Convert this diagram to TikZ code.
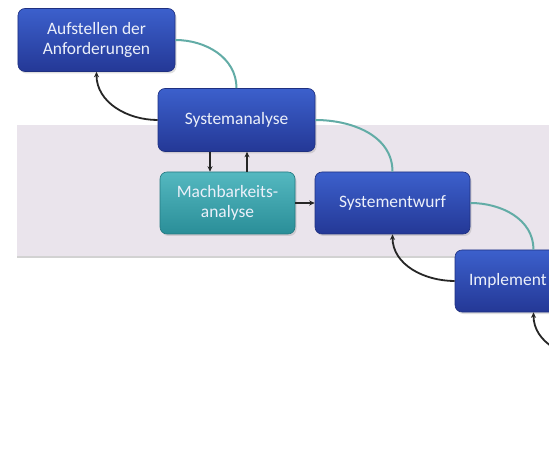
\documentclass[tikz,border=0pt]{standalone}
\usepackage{fontspec}
\setmainfont{Carlito}
\usetikzlibrary{arrows.meta,shadows,calc}

\definecolor{phaseTop}{RGB}{60,96,204}
\definecolor{phaseBot}{RGB}{36,56,150}
\definecolor{checkTop}{RGB}{84,184,192}
\definecolor{checkBot}{RGB}{42,142,152}
\definecolor{flowTeal}{RGB}{98,172,166}
\definecolor{bandFill}{RGB}{234,228,236}
\definecolor{labelWhite}{RGB}{236,240,250}

\tikzset{
  phase/.style={rounded corners=7bp, top color=phaseTop, bottom color=phaseBot,
    draw=phaseBot!85!black, line width=0.6bp,
    minimum width=157bp, minimum height=63bp, inner sep=0pt,
    text=labelWhite, align=center,
    font=\fontsize{17.5}{20.5}\selectfont,
    drop shadow={opacity=0.25, shadow xshift=1.5bp, shadow yshift=-2bp}},
  check/.style={phase, top color=checkTop, bottom color=checkBot,
    draw=checkBot!85!black},
  forward/.style={draw=flowTeal, line width=2bp},
  feedback/.style={draw=black!85, line width=1.8bp,
    -{Stealth[length=5.5bp,width=5bp]}}
}

\begin{document}
\begin{tikzpicture}[x=1bp,y=-1bp]
  \useasboundingbox (0,0) rectangle (549,460);
  \fill[white] (0,0) rectangle (549,460);
  \clip (0,0) rectangle (549,460);

  % shaded band behind the analysis/design phases
  \fill[bandFill, drop shadow={opacity=0.35, shadow xshift=0bp, shadow yshift=-2bp}]
    (17,125) rectangle (570,256);

  % phases
  \node[phase] (req) at (96.5,40) {Aufstellen der\\Anforderungen};
  \node[phase] (ana) at (236.5,120) {Systemanalyse};
  \node[check, minimum width=135bp, minimum height=62bp] (feas) at (227.5,203)
    {Machbarkeits-\\analyse};
  \node[phase, minimum width=155bp, minimum height=62bp] (des) at (392.5,203)
    {Systementwurf};
  \node[phase, minimum height=62bp, text width=129bp, align=left] (impl) at (533.5,281)
    {Implement};
  \coordinate (next) at (596,359);

  % forward flow
  \draw[forward] (req.east) to[out=0,in=90] (ana.north);
  \draw[forward] (ana.east) to[out=0,in=90] (des.north);
  \draw[forward] (des.east) to[out=0,in=90] (impl.north);

  % feedback loops
  \draw[feedback] (ana.west) to[out=180,in=-90] (req.south);
  \draw[feedback] (impl.west) to[out=180,in=-90] (des.south);
  \draw[feedback] (next) to[out=180,in=-90] (impl.south);

  % feasibility check
  \draw[feedback] ([xshift=-17.5bp]feas.north |- ana.south) -- ([xshift=-17.5bp]feas.north);
  \draw[feedback] ([xshift=19.5bp]feas.north) -- ([xshift=19.5bp]feas.north |- ana.south);
  \draw[feedback] (feas.east) -- (des.west);
\end{tikzpicture}
\end{document}
